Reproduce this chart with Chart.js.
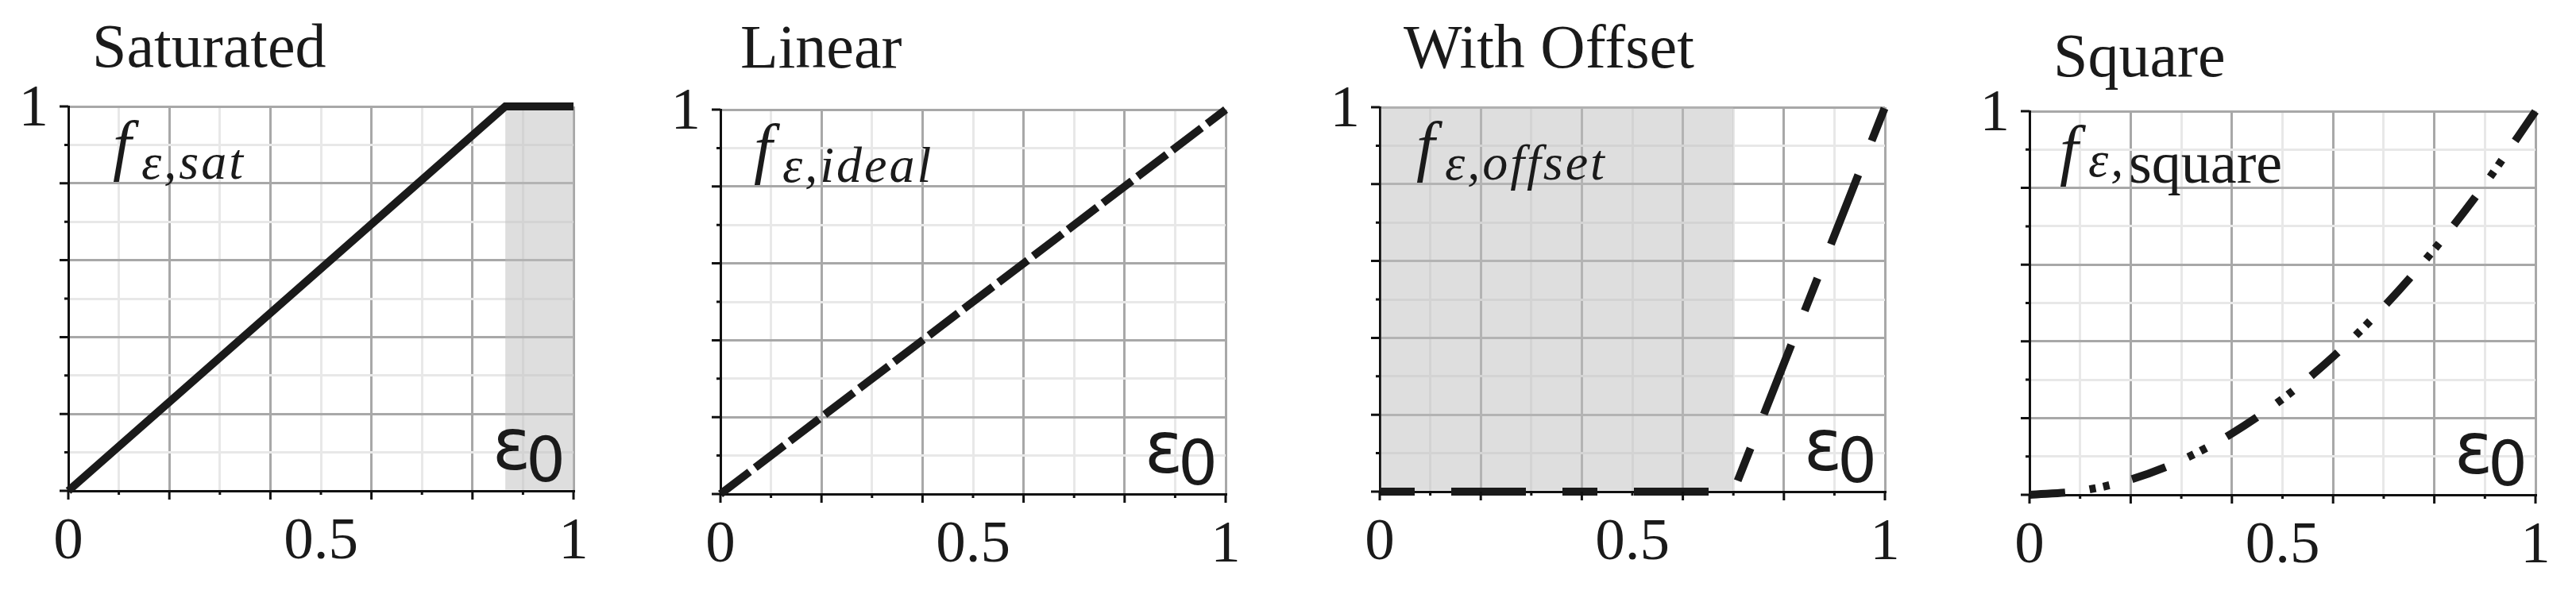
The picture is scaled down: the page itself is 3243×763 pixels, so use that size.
<!DOCTYPE html>
<html>
<head>
<meta charset="utf-8">
<script src="https://cdn.jsdelivr.net/npm/chart.js@4/dist/chart.umd.min.js"></script>
<style>
html,body{margin:0;padding:0;background:#ffffff;width:3243px;height:763px;overflow:hidden}
canvas{position:absolute;top:0}
</style>
</head>
<body>
<canvas id="c0" width="766" height="763"></canvas>
<canvas id="c1" width="766" height="763"></canvas>
<canvas id="c2" width="766" height="763"></canvas>
<canvas id="c3" width="766" height="763"></canvas>
<script>
// ---------- data ----------
const panelTitles = ['Saturated', 'Linear', 'With Offset', 'Square'];

const satX = [0, 0.865, 1];
const satY = [0, 1, 1];

const linX = [0, 1];
const linY = [0, 1];

const offX = [0, 0.7, 1];
const offY = [0, 0, 1];

const sqX = [0, 0.1, 0.2, 0.3, 0.4, 0.5, 0.6, 0.7, 0.8, 0.9, 1];
const sqY = [0, 0.01, 0.04, 0.09, 0.16, 0.25, 0.36, 0.49, 0.64, 0.81, 1];

const satShade = [0.865, 1];
const offShade = [0, 0.7];

const xTickValues = [0, 0.5, 1];
const xTickLabels = ['0', '0.5', '1'];
const yTickValues = [1];
const yTickLabels = ['1'];

const fnSubs = ['ε,sat', 'ε,ideal', 'ε,offset', 'ε,'];
const fnSubRoman = ['', '', '', 'square'];
const axisName = ['ε', '0'];

// ---------- layout / style ----------
const CW = 766, CH = 763, YW = 86;
const INK = '#1a1a1a';
const panels = [
  {id:'c0', left:86,   top:134, bottom:618, w:636, xs:satX, ys:satY, dash:[],                    shade:satShade, smooth:false, tdx:30, tdy:-50, fdx:56},
  {id:'c1', left:907,  top:138, bottom:622, w:636, xs:linX, ys:linY, dash:[46, 9],               shade:null,     smooth:false, tdx:25, tdy:-53, fdx:42},
  {id:'c2', left:1737, top:135, bottom:619, w:636, xs:offX, ys:offY, dash:[44, 46, 94, 46],      shade:offShade, smooth:false, tdx:30, tdy:-50, fdx:46},
  {id:'c3', left:2555, top:140, bottom:623, w:637, xs:sqX,  ys:sqY,  dash:[45, 31, 8, 9.5, 8, 29.5], shade:null, smooth:true, tdx:30, tdy:-44, fdx:38}
];

function labelFor(values, labels, v) {
  const i = values.findIndex(t => Math.abs(t - v) < 1e-6);
  return i >= 0 ? labels[i] : '';
}
function isMajor(v) { return Math.round(v * 10) % 2 === 0; }

panels.forEach((p, idx) => {
  const el = document.getElementById(p.id);
  el.style.left = (p.left - YW) + 'px';

  const deco = {
    id: 'deco' + idx,
    beforeDatasetsDraw(chart) {
      const ctx = chart.ctx, a = chart.chartArea, xs = chart.scales.x;
      if (p.shade) {
        const x0 = Math.max(xs.getPixelForValue(p.shade[0]), a.left + 1.5);
        const x1 = xs.getPixelForValue(p.shade[1]);
        ctx.save();
        ctx.fillStyle = 'rgba(190,190,190,0.5)';
        ctx.fillRect(x0, a.top, x1 - x0, a.bottom - a.top - 1.5);
        ctx.restore();
      }
    },
    afterDraw(chart) {
      const ctx = chart.ctx, a = chart.chartArea, xs = chart.scales.x, ys = chart.scales.y;
      ctx.save();
      // tick marks
      ctx.strokeStyle = '#111';
      ctx.lineWidth = 3;
      ctx.lineCap = 'butt';
      ctx.beginPath();
      xs.ticks.forEach(t => {
        const px = xs.getPixelForValue(t.value);
        ctx.moveTo(px, a.bottom);
        ctx.lineTo(px, a.bottom + (isMajor(t.value) ? 11 : 5));
      });
      ys.ticks.forEach(t => {
        const py = ys.getPixelForValue(t.value);
        ctx.moveTo(a.left, py);
        ctx.lineTo(a.left - (isMajor(t.value) ? 11 : 5), py);
      });
      ctx.stroke();

      ctx.fillStyle = INK;
      ctx.textBaseline = 'alphabetic';
      ctx.textAlign = 'left';
      // title
      ctx.font = '78px "Liberation Serif", serif';
      ctx.fillText(panelTitles[idx], a.left + p.tdx, a.top + p.tdy);

      // function label
      const fx = a.left + p.fdx;
      ctx.font = 'italic 84px "Liberation Serif", serif';
      ctx.fillText('f', fx, a.top + 77);
      ctx.font = 'italic 64px "Liberation Serif", serif';
      if ('letterSpacing' in ctx) ctx.letterSpacing = '3px';
      const subBase = fnSubRoman[idx] ? a.top + 82 : a.top + 91;
      ctx.fillText(fnSubs[idx], fx + 36, subBase);
      if ('letterSpacing' in ctx) ctx.letterSpacing = '0px';
      if (fnSubRoman[idx]) {
        ctx.font = '74px "Liberation Serif", serif';
        ctx.fillText(fnSubRoman[idx], fx + 87, a.top + 90);
      }

      // epsilon_0 axis name
      ctx.textAlign = 'right';
      ctx.font = '78px "DejaVu Sans", sans-serif';
      const zx = a.right - 10;
      ctx.fillText(axisName[1], zx, a.bottom - 12);
      const w0 = ctx.measureText(axisName[1]).width;
      ctx.font = '90px "DejaVu Sans", sans-serif';
      ctx.fillText(axisName[0], zx - w0 + 6, a.bottom - 27);
      ctx.restore();
    }
  };

  new Chart(el, {
    type: 'line',
    data: {
      datasets: [{
        data: p.xs.map((x, i) => ({x: x, y: p.ys[i]})),
        borderColor: INK,
        borderWidth: 10,
        borderDash: p.dash,
        borderCapStyle: 'butt',
        borderJoinStyle: 'miter',
        pointRadius: 0,
        pointHoverRadius: 0,
        fill: false,
        tension: 0,
        cubicInterpolationMode: p.smooth ? 'monotone' : 'default',
        clip: false
      }]
    },
    options: {
      responsive: false,
      animation: false,
      devicePixelRatio: 1,
      events: [],
      layout: {padding: {left: 0, right: CW - YW - p.w, top: p.top, bottom: 0}},
      plugins: {legend: {display: false}, tooltip: {enabled: false}, title: {display: false}},
      scales: {
        x: {
          type: 'linear', min: 0, max: 1,
          afterFit(s) { s.height = CH - p.bottom; },
          grid: {color: c => isMajor(c.tick.value) ? '#a8a8a8' : '#e8e8e8', lineWidth: 3, drawTicks: false},
          border: {display: true, color: '#111', width: 3},
          ticks: {
            stepSize: 0.1, autoSkip: false, maxRotation: 0, minRotation: 0, padding: 20,
            color: INK, font: {family: '"Liberation Serif", serif', size: 75},
            callback: v => labelFor(xTickValues, xTickLabels, v)
          }
        },
        y: {
          type: 'linear', min: 0, max: 1,
          afterFit(s) { s.width = YW; },
          grid: {color: c => isMajor(c.tick.value) ? '#a8a8a8' : '#e8e8e8', lineWidth: 3, drawTicks: false},
          border: {display: true, color: '#111', width: 3},
          ticks: {
            stepSize: 0.1, autoSkip: false, padding: 25, labelOffset: 4,
            color: INK, font: {family: '"Liberation Serif", serif', size: 75},
            callback: v => labelFor(yTickValues, yTickLabels, v)
          }
        }
      }
    },
    plugins: [deco]
  });
});
</script>
</body>
</html>
